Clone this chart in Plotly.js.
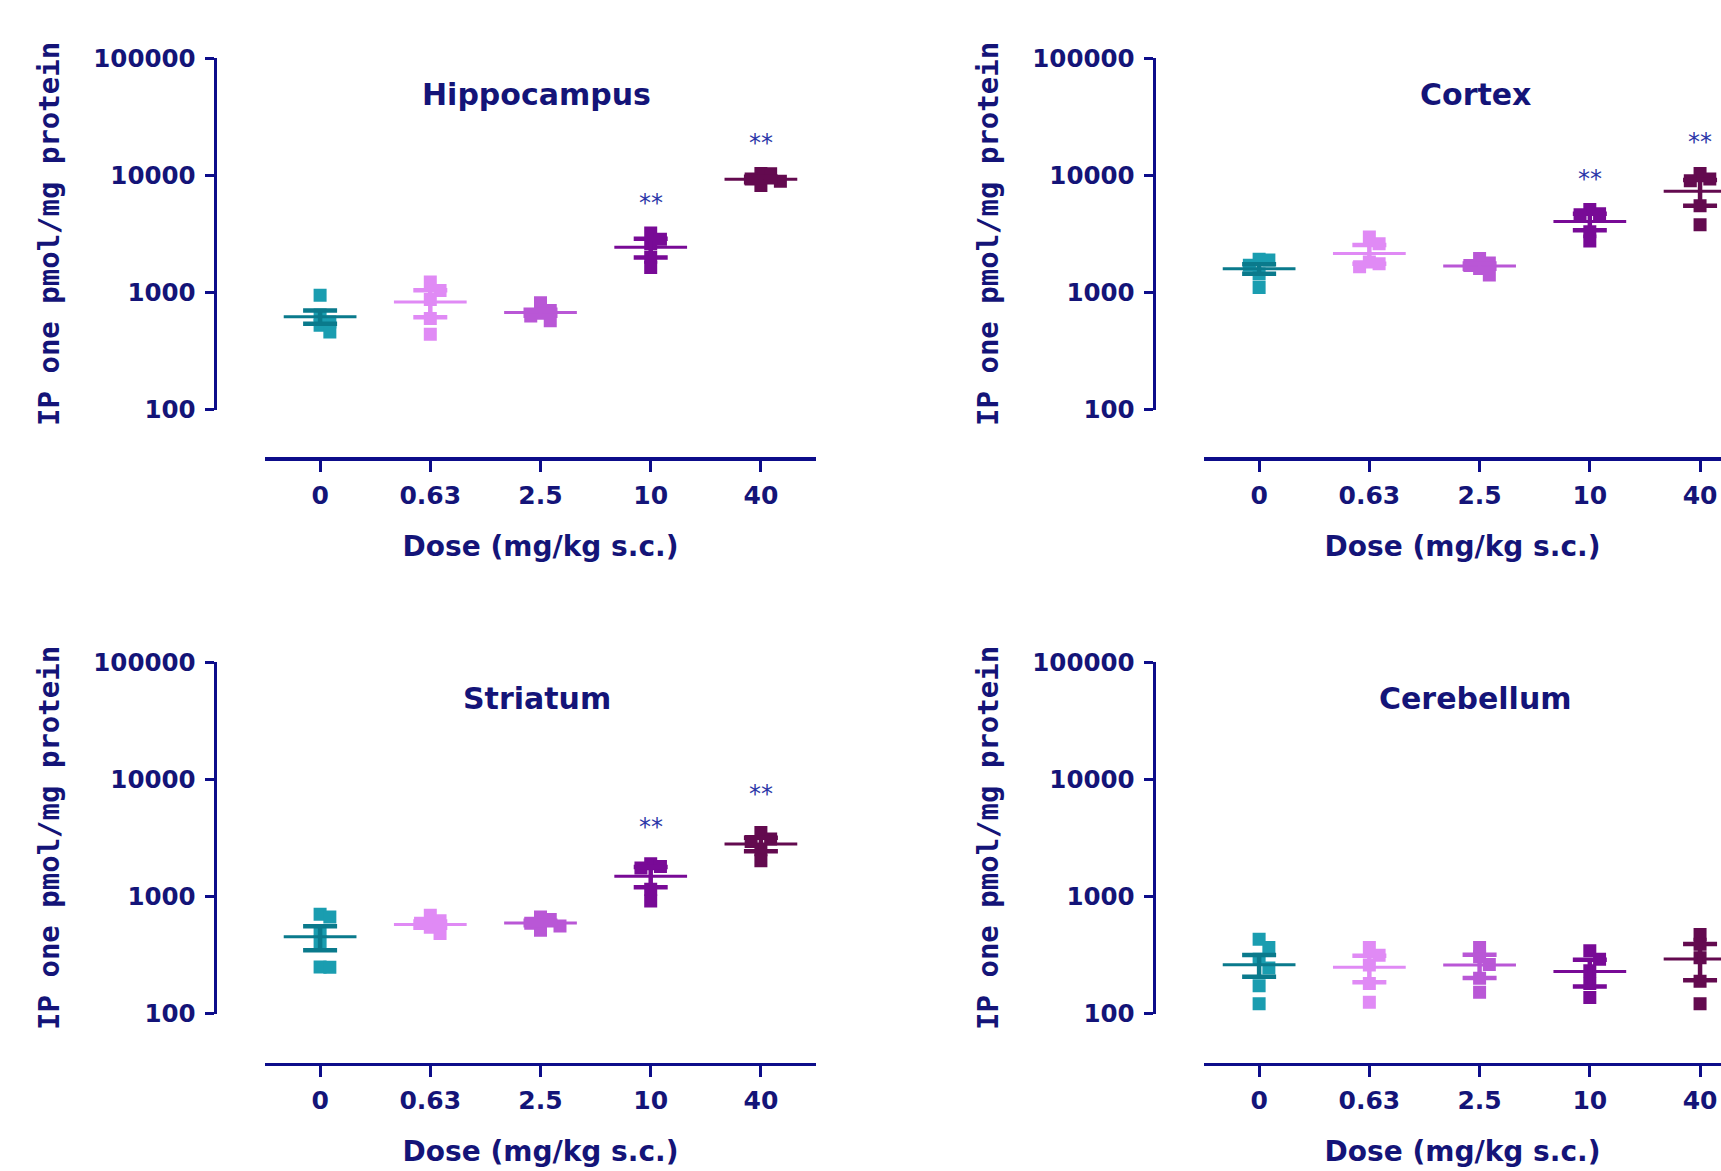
<!DOCTYPE html>
<html>
<head>
<meta charset="utf-8">
<script src="https://cdn.plot.ly/plotly-3.0.1.min.js"></script>
<style>
  html, body { margin: 0; padding: 0; background: #ffffff; }
  #chart { width: 1721px; height: 1171px; }
</style>
</head>
<body>
<div id="chart"></div>
<script>
// ---------------- DATA ----------------
const doses = ['0', '0.63', '2.5', '10', '40'];
const yTickValues = [100, 1000, 10000, 100000];
const yTickLabels = ['100', '1000', '10000', '100000'];

const hippocampusPoints = [
  [946, 640, 560, 525, 460],
  [1230, 1040, 870, 600, 440],
  [815, 700, 665, 630, 572],
  [3220, 2850, 2600, 2000, 1630],
  [10350, 10300, 9300, 8900, 8200]
];
const hippocampusMean = [620, 830, 673, 2430, 9250];
const hippocampusSem = [80, 215, 40, 445, 500];
const hippocampusStars = [null, null, null, 6200, 20200];

const cortexPoints = [
  [1925, 1888, 1711, 1436, 1100],
  [2970, 2600, 1820, 1760, 1660],
  [1950, 1780, 1700, 1600, 1410],
  [5100, 4700, 4600, 3300, 2750],
  [10350, 9300, 9000, 5500, 3780]
];
const cortexMean = [1592, 2150, 1680, 4040, 7330];
const cortexSem = [150, 390, 90, 650, 1820];
const cortexStars = [null, null, null, 9880, 20600];

const striatumPoints = [
  [705, 668, 505, 410, 250, 248],
  [690, 620, 590, 545, 483],
  [668, 634, 590, 560, 515],
  [1900, 1800, 1750, 1150, 915],
  [3520, 3100, 2950, 2500, 2020]
];
const striatumMean = [452, 575, 594, 1490, 2805];
const striatumSem = [105, 35, 27, 290, 370];
const striatumStars = [null, null, null, 4150, 7960];

const cerebellumPoints = [
  [431, 366, 290, 245, 173, 121],
  [366, 315, 260, 180, 125],
  [366, 305, 262, 200, 152],
  [343, 290, 232, 180, 137],
  [474, 390, 300, 189, 121]
];
const cerebellumMean = [261, 248, 259, 229, 292];
const cerebellumSem = [55, 63, 58, 59, 100];
const cerebellumStars = [null, null, null, null, null];

// ---------------- STYLE ----------------
const pointColors = ['#1a9db0', '#e08af5', '#b957d6', '#780a96', '#630a4f'];
const lineColors  = ['#0a7a8c', '#e08af5', '#b957d6', '#780a96', '#630a4f'];
const NAVY = '#0d0d8a';
const TEXT = '#141478';
const STAR = '#2b37a8';

const W = 1721, H = 1171;
const PX_PER_UNIT = 110.25;
const PX_PER_DECADE = 117.07;
const MARKER = 13;
const STEP = MARKER * 0.75;

const panels = [
  { title: 'Hippocampus', pts: hippocampusPoints, mean: hippocampusMean, sem: hippocampusSem, stars: hippocampusStars,
    xDom: [265, 816], xRange: [-0.5, 4.5], yAxisX: 214.5, yTop: 58.3, yBot: 409.5, xLineY: 458.4 },
  { title: 'Cortex', pts: cortexPoints, mean: cortexMean, sem: cortexSem, stars: cortexStars,
    xDom: [1204, 1721], xRange: [-0.5, 4.19], yAxisX: 1153.5, yTop: 58.3, yBot: 409.5, xLineY: 458.4 },
  { title: 'Striatum', pts: striatumPoints, mean: striatumMean, sem: striatumSem, stars: striatumStars,
    xDom: [265, 816], xRange: [-0.5, 4.5], yAxisX: 214.5, yTop: 662.3, yBot: 1013.5, xLineY: 1063.5 },
  { title: 'Cerebellum', pts: cerebellumPoints, mean: cerebellumMean, sem: cerebellumSem, stars: cerebellumStars,
    xDom: [1204, 1721], xRange: [-0.5, 4.19], yAxisX: 1153.5, yTop: 662.3, yBot: 1013.5, xLineY: 1063.5 }
];

// simple beeswarm (pixel space) like a scatter dot plot
function swarm(values, center) {
  const order = values.map((v, i) => i).sort((a, b) => values[b] - values[a]);
  const placed = [];
  const xs = new Array(values.length);
  order.forEach(i => {
    const py = Math.log10(values[i]) * PX_PER_DECADE;
    const cands = [0];
    for (let k = 1; k < 10; k++) { cands.push(k); cands.push(-k); }
    for (const k of cands) {
      const px = k * STEP;
      const hit = placed.some(p => Math.abs(p.x - px) < STEP - 0.5 && Math.abs(p.y - py) < STEP - 0.5);
      if (!hit) { placed.push({ x: px, y: py }); xs[i] = center + px / PX_PER_UNIT; break; }
    }
  });
  return xs;
}

const traces = [];
const layout = {
  width: W, height: H,
  margin: { l: 0, r: 0, t: 0, b: 0 },
  paper_bgcolor: '#ffffff', plot_bgcolor: '#ffffff',
  showlegend: false,
  annotations: []
};

panels.forEach((p, k) => {
  const n = k + 1;
  const xa = 'x' + (n === 1 ? '' : n), ya = 'y' + (n === 1 ? '' : n);
  const xKey = 'xaxis' + (n === 1 ? '' : n), yKey = 'yaxis' + (n === 1 ? '' : n);

  // points
  p.pts.forEach((vals, g) => {
    traces.push({
      type: 'scatter', mode: 'markers', xaxis: xa, yaxis: ya,
      x: swarm(vals, g), y: vals,
      marker: { symbol: 'square', size: MARKER, color: pointColors[g], line: { width: 0 } },
      hoverinfo: 'y'
    });
  });
  // mean lines
  p.mean.forEach((m, g) => {
    traces.push({
      type: 'scatter', mode: 'lines', xaxis: xa, yaxis: ya,
      x: [g - 0.33, g + 0.33], y: [m, m],
      line: { color: lineColors[g], width: 3 }, hoverinfo: 'skip'
    });
  });
  // SEM error bars
  p.mean.forEach((m, g) => {
    traces.push({
      type: 'scatter', mode: 'markers', xaxis: xa, yaxis: ya,
      x: [g], y: [m],
      marker: { size: 1, opacity: 0 },
      error_y: { type: 'data', array: [p.sem[g]], visible: true, color: lineColors[g], thickness: 4.5, width: 17 },
      hoverinfo: 'skip'
    });
  });

  layout[xKey] = {
    domain: [p.xDom[0] / W, Math.min(1, p.xDom[1] / W)],
    range: p.xRange,
    anchor: 'free',
    position: 1 - p.xLineY / H,
    tickmode: 'array', tickvals: doses.map((d, i) => i), ticktext: doses,
    showline: true, linecolor: NAVY, linewidth: 3.5,
    ticks: 'outside', ticklen: 11, tickwidth: 3, tickcolor: NAVY,
    showgrid: false, zeroline: false,
    ticklabelstandoff: 2,
    tickfont: { family: 'DejaVu Sans', size: 25, color: TEXT, weight: 'bold' },
    title: { text: 'Dose (mg/kg s.c.)', standoff: 27,
             font: { family: 'DejaVu Sans', size: 28, color: TEXT, weight: 'bold' } },
    fixedrange: true
  };
  layout[yKey] = {
    type: 'log',
    domain: [1 - p.yBot / H, 1 - p.yTop / H],
    range: [2, 5],
    anchor: 'free',
    position: p.yAxisX / W,
    tickmode: 'array', tickvals: yTickValues, ticktext: yTickLabels,
    showline: true, linecolor: NAVY, linewidth: 3,
    ticks: 'outside', ticklen: 9, tickwidth: 3, tickcolor: NAVY,
    showgrid: false, zeroline: false,
    ticklabelstandoff: 4,
    tickfont: { family: 'DejaVu Sans', size: 24.5, color: TEXT, weight: 'bold' },
    title: { text: 'IP one pmol/mg protein', standoff: 24,
             font: { family: 'DejaVu Sans Mono', size: 29, color: TEXT, weight: 'bold' } },
    fixedrange: true
  };

  // panel title
  layout.annotations.push({
    xref: xa, yref: 'paper', x: 2, xshift: -4,
    y: 1 - (p.yTop + 36.5) / H, yanchor: 'middle', xanchor: 'center',
    text: p.title, showarrow: false,
    font: { family: 'DejaVu Sans', size: 30, color: TEXT, weight: 'bold' }
  });
  // significance stars
  p.stars.forEach((s, g) => {
    if (s === null) return;
    layout.annotations.push({
      xref: xa, yref: ya, x: g, y: Math.log10(s),
      text: '**', showarrow: false, yanchor: 'middle', xanchor: 'center', yshift: -3,
      font: { family: 'DejaVu Sans', size: 24, color: STAR }
    });
  });
});

Plotly.newPlot('chart', traces, layout, { displayModeBar: false, staticPlot: true });
</script>
</body>
</html>
